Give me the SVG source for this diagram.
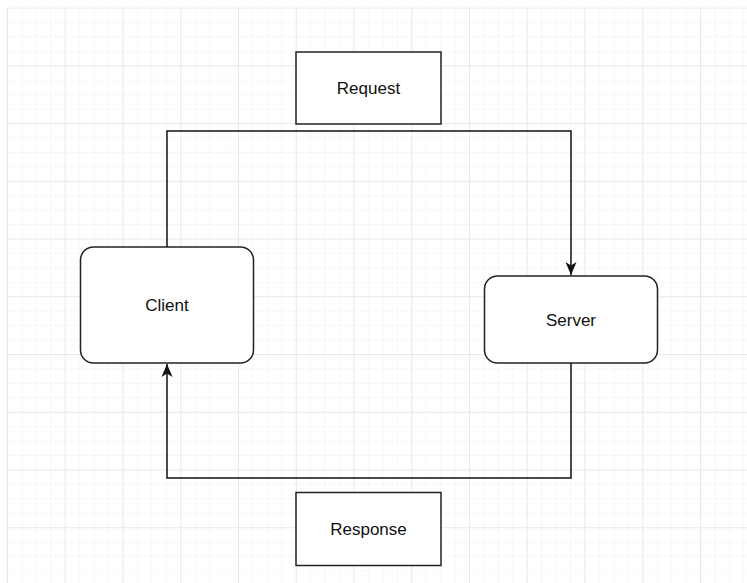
<svg xmlns="http://www.w3.org/2000/svg" width="747" height="583" viewBox="0 0 747 583">
  <defs>
    <pattern id="minor" x="7" y="7.5" width="14.4375" height="14.4375" patternUnits="userSpaceOnUse">
      <path d="M0 0V14.4375M0 0H14.4375" fill="none" stroke="#efefef" stroke-width="1"/>
    </pattern>
    <pattern id="major" x="7" y="7.5" width="57.75" height="57.75" patternUnits="userSpaceOnUse">
      <path d="M0 0V57.75M0 0H57.75" fill="none" stroke="#dcdcdc" stroke-width="1"/>
    </pattern>
    <marker id="arrow" viewBox="0 0 13 12" refX="13" refY="6" markerWidth="13" markerHeight="12" markerUnits="userSpaceOnUse" orient="auto">
      <path d="M0 0.5 L13 6 L0 11.5 L3.5 6 Z" fill="#111"/>
    </marker>
  </defs>
  <style>
    .box { fill: #fff; stroke: #222; stroke-width: 1.5; }
    .edge { fill: none; stroke: #111; stroke-width: 1.5; }
    .label { font-family: "Liberation Sans", Arial, sans-serif; font-size: 17px; fill: #111; text-anchor: middle; dominant-baseline: central; }
  </style>
  <rect width="747" height="583" fill="#fff"/>
  <rect x="7" y="7.5" width="740" height="575.5" fill="url(#minor)"/>
  <rect x="7" y="7.5" width="740" height="575.5" fill="url(#major)"/>

  <g id="connectors">
    <path id="edge-request" class="edge" d="M167 247 V131 H571 V275" marker-end="url(#arrow)"/>
    <path id="edge-response" class="edge" d="M571 363 V478 H167 V364" marker-end="url(#arrow)"/>
  </g>

  <g id="request">
    <rect class="box" x="296" y="52" width="145" height="72"/>
    <text class="label" x="368.5" y="88">Request</text>
  </g>
  <g id="response">
    <rect class="box" x="296" y="492.5" width="145" height="73"/>
    <text class="label" x="368.5" y="529">Response</text>
  </g>
  <g id="client">
    <rect class="box" x="80.5" y="247" width="173" height="116" rx="13" ry="13"/>
    <text class="label" x="167" y="305">Client</text>
  </g>
  <g id="server">
    <rect class="box" x="484.5" y="276" width="173" height="87" rx="13" ry="13"/>
    <text class="label" x="571" y="320">Server</text>
  </g>
</svg>
